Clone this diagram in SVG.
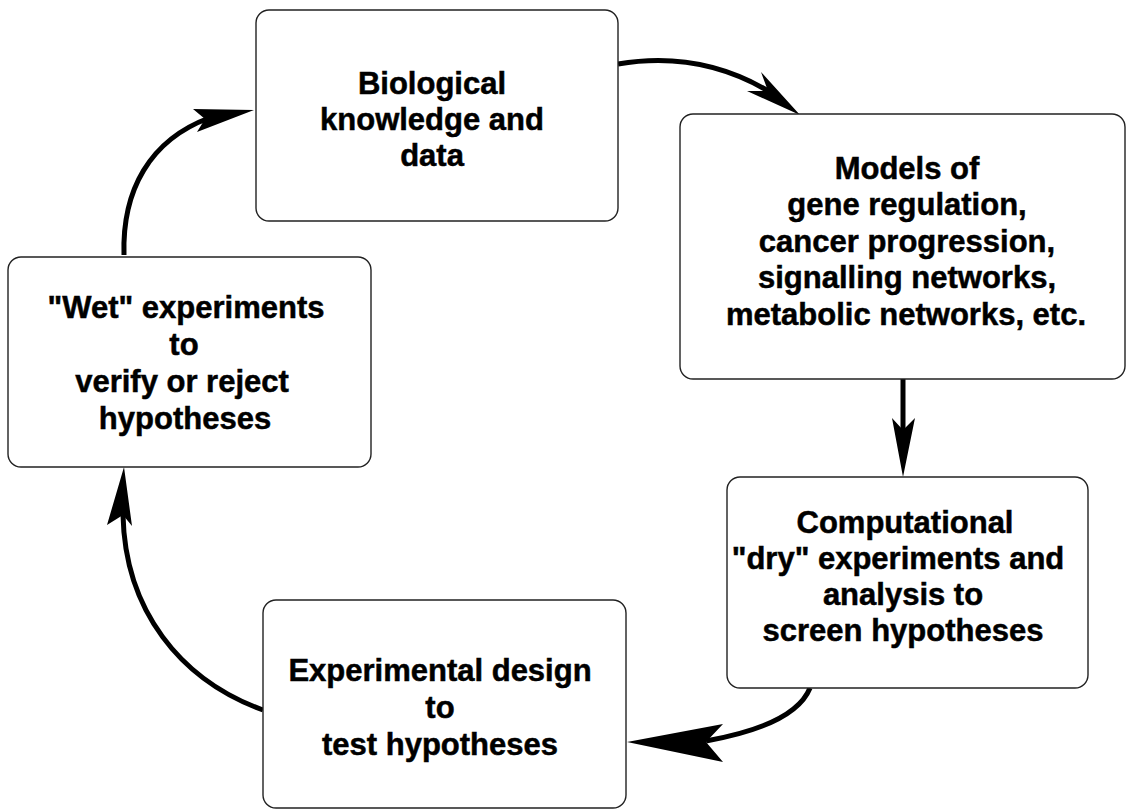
<svg xmlns="http://www.w3.org/2000/svg" width="1126" height="811" viewBox="0 0 1126 811">
<style>
.box{fill:#fff;stroke:#222;stroke-width:1.4}
.t{font-family:"Liberation Sans",Arial,sans-serif;font-weight:bold;font-size:31px;fill:#000;stroke:#000;stroke-width:0.5;text-anchor:middle}
.shaft{fill:none;stroke:#000;stroke-width:5}
.head{fill:#000;stroke:none}
</style>
<rect width="1126" height="811" fill="#fff"/>
<g id="connectors">
<path class="shaft" d="M618 64 Q700 50 770 92"/>
<polygon class="head" points="800,115 761,72 768,91 747,91"/>
<path class="shaft" d="M903 379 L903 432"/>
<polygon class="head" points="903,477 892,418 903,430 915,418"/>
<path class="shaft" d="M810 688 Q795 725 706 741"/>
<polygon class="head" points="627,742 723,724 706,742 723,762"/>
<path class="shaft" d="M263 710 C180 680 125 610 123 515"/>
<polygon class="head" points="124,467 107,525 123,515 132,526"/>
<path class="shaft" d="M124 255 C122 190 150 140 209 118"/>
<polygon class="head" points="254,110 193,109 205,119 197,132"/>
</g>
<g id="node-bio">
<rect class="box" x="256" y="10" width="362" height="211" rx="13"/>
<text class="t" x="432" y="94">Biological</text>
<text class="t" x="432" y="130">knowledge and</text>
<text class="t" x="432" y="166">data</text>
</g>
<g id="node-models">
<rect class="box" x="680" y="114" width="445" height="265" rx="13"/>
<text class="t" x="907" y="179">Models of</text>
<text class="t" x="907" y="215">gene regulation,</text>
<text class="t" x="907" y="252">cancer progression,</text>
<text class="t" x="907" y="288">signalling networks,</text>
<text class="t" x="906" y="325">metabolic networks, etc.</text>
</g>
<g id="node-comp">
<rect class="box" x="727" y="477" width="361" height="211" rx="13"/>
<text class="t" x="905" y="533">Computational</text>
<text class="t" x="898" y="569">"dry" experiments and</text>
<text class="t" x="903" y="605">analysis to</text>
<text class="t" x="903" y="641">screen hypotheses</text>
</g>
<g id="node-exp">
<rect class="box" x="263" y="600" width="363" height="208" rx="13"/>
<text class="t" x="440" y="681">Experimental design</text>
<text class="t" x="440" y="718">to</text>
<text class="t" x="440" y="755">test hypotheses</text>
</g>
<g id="node-wet">
<rect class="box" x="8" y="257" width="363" height="210" rx="13"/>
<text class="t" x="186" y="318">"Wet" experiments</text>
<text class="t" x="184" y="355">to</text>
<text class="t" x="182" y="392">verify or reject</text>
<text class="t" x="185" y="429">hypotheses</text>
</g>
</svg>
